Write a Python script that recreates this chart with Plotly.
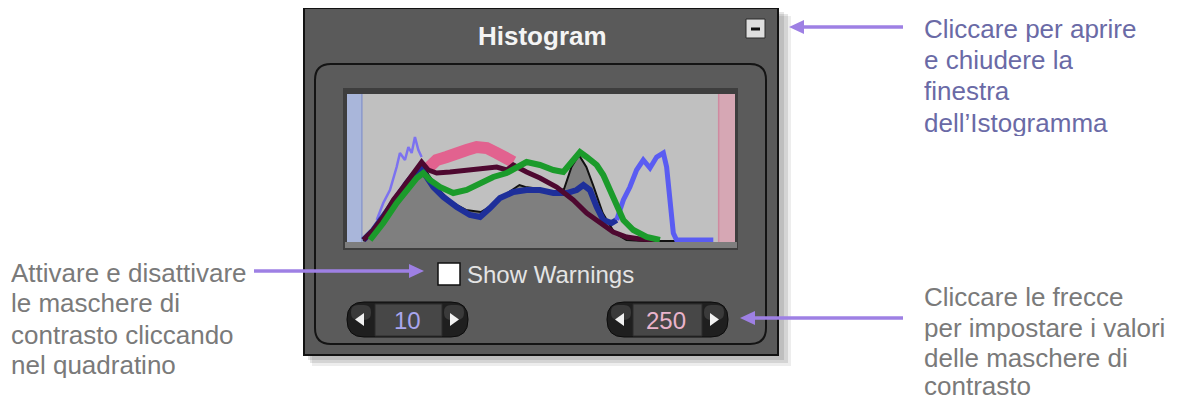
import plotly.graph_objects as go

# page body has an 8px margin; the figure fills the rest of the 1179x400 window
PAGE_W, PAGE_H = 1179, 400
OFF = 8
W, H = PAGE_W - OFF, PAGE_H - OFF

# ---------------- data ----------------
LOW_LIMIT = 10
HIGH_LIMIT = 250
LEVEL_MAX = 261

LUM_LEVEL = [11, 20, 30, 40, 50, 55, 62, 70, 80, 90, 98, 108, 116, 120, 130, 140, 146, 151, 156, 161, 166, 172, 180, 188, 200, 246]
LUM_COUNT = [4, 20, 42, 64, 82, 70, 55, 43, 35, 33, 40, 52, 60, 58, 56, 52, 56, 78, 90, 78, 58, 32, 12, 5, 4, 4]

SPIKE_LEVEL = [20, 24.4, 28.9, 33.4, 35.6, 39, 41.3, 43.5, 45.7, 48, 50.2]
SPIKE_COUNT = [25, 42, 55, 78, 92, 85, 98, 92, 108, 95, 88]

PINK_LEVEL = [54.7, 60.3, 67, 73.8, 80.5, 87.2, 94, 100.7, 107.4, 111.9]
PINK_COUNT = [77, 85, 88, 93, 95, 98, 97, 92, 87, 83]

BLUE_LEVEL = [11, 17.7, 28.9, 40.1, 49.1, 53.6, 58.1, 64.8, 73.8, 82.7, 89.5, 96.2, 102.9, 111.9, 120.8, 129.8, 138.8, 147.8, 154.5, 159, 163.4, 168, 172.4, 178, 181.4]
BLUE_COUNT = [5, 15, 38, 62, 78, 68, 58, 48, 38, 30, 28, 37, 47, 53, 55, 55, 52, 52, 55, 60, 55, 38, 25, 22, 25]

LBLUE_LEVEL = [181.4, 185.9, 190.3, 194.8, 199.3, 203.8, 208.3, 212.8, 215, 217.3, 219.5, 221.7, 246.4]
LBLUE_COUNT = [25, 45, 58, 75, 85, 77, 88, 92, 78, 45, 12, 5, 5]

RED_LEVEL = [11, 17.7, 24.4, 31.2, 37.9, 44.6, 50.2, 54.7, 60.3, 69.3, 80.5, 91.7, 100.7, 107.4, 111.9, 120.8, 129.8, 141, 152.2, 161.2, 170.2, 179.1, 188.1, 197.1, 208.3]
RED_COUNT = [5, 15, 28, 45, 58, 72, 83, 75, 72, 73, 75, 76, 78, 75, 80, 73, 67, 58, 45, 32, 22, 13, 8, 6, 5]

GREEN_LEVEL = [15.5, 24.4, 33.4, 40.1, 46.9, 51.3, 55.8, 62.5, 71.5, 80.5, 89.5, 98.4, 107.4, 114.1, 120.8, 129.8, 138.8, 145.5, 150, 156.7, 161.2, 168, 172.4, 176.9, 181.4, 185.9, 192.6, 201.6, 210.5]
GREEN_COUNT = [5, 22, 42, 55, 67, 72, 65, 58, 52, 55, 62, 68, 72, 77, 83, 80, 75, 73, 82, 93, 88, 80, 70, 55, 38, 25, 15, 8, 5]

TITLE = "Histogram"
CHECK_LABEL = "Show Warnings"

NOTE_TOP = ["Cliccare per aprire", "e chiudere la", "finestra", "dell\u2019Istogramma"]
NOTE_LEFT = ["Attivare e disattivare", "le maschere di", "contrasto cliccando", "nel quadratino"]
NOTE_BOTTOM = ["Cliccare le frecce", "per impostare i valori", "delle maschere di", "contrasto"]

FONT = "Liberation Sans, Arial, sans-serif"
ARROW_COLOR = "#9e80e4"


def px(x):
    return (x - OFF) / W


def py(y):
    return 1 - (y - OFF) / H


def rect(x0, y0, x1, y1, fill, line_color=None, lw=0, **kw):
    d = dict(type="rect", xref="paper", yref="paper",
             x0=px(x0), x1=px(x1), y0=py(y1), y1=py(y0),
             fillcolor=fill, layer="below",
             line=dict(color=line_color or fill, width=lw))
    d.update(kw)
    return d


def rrect(x0, y0, x1, y1, r, fill, line_color, lw):
    pts = [
        ("M", x0 + r, y0), ("L", x1 - r, y0), ("Q", x1, y0, x1, y0 + r),
        ("L", x1, y1 - r), ("Q", x1, y1, x1 - r, y1), ("L", x0 + r, y1),
        ("Q", x0, y1, x0, y1 - r), ("L", x0, y0 + r), ("Q", x0, y0, x0 + r, y0),
    ]
    s = ""
    for p in pts:
        cmd = p[0]
        coords = p[1:]
        parts = []
        for i in range(0, len(coords), 2):
            parts.append(f"{px(coords[i]):.5f},{py(coords[i+1]):.5f}")
        s += cmd + " " + " ".join(parts) + " "
    s += "Z"
    return dict(type="path", xref="paper", yref="paper", path=s,
                fillcolor=fill, layer="below", line=dict(color=line_color, width=lw))


def tri(tip_x, tip_y, base_x, half, color):
    s = (f"M {px(tip_x):.5f},{py(tip_y):.5f} L {px(base_x):.5f},{py(tip_y - half):.5f} "
         f"L {px(base_x):.5f},{py(tip_y + half):.5f} Z")
    return dict(type="path", xref="paper", yref="paper", path=s,
                fillcolor=color, layer="above", line=dict(color=color, width=0))


def hline(x0, x1, y, color, w, layer="above"):
    return dict(type="line", xref="paper", yref="paper",
                x0=px(x0), x1=px(x1), y0=py(y), y1=py(y),
                layer=layer, line=dict(color=color, width=w))


shapes = []
# drop shadow
shapes.append(rect(308, 12, 784, 360, "rgba(0,0,0,0.10)"))
shapes.append(rect(310, 14, 788, 363, "rgba(0,0,0,0.10)"))
shapes.append(rect(312, 16, 791, 366, "rgba(0,0,0,0.07)"))
# panel
shapes.append(rect(304, 8, 778, 355, "#5a5a5a", "#121212", 2))
# inner rounded frame
shapes.append(rrect(315, 64, 766, 344, 16, "#5b5b5b", "#141414", 2))
# histogram frame
shapes.append(rect(343, 88, 738, 250, "#3e3e3e"))
shapes.append(rect(347, 94, 735, 242, "#c0c0c0"))
shapes.append(rect(345, 242, 737, 248, "#7e7e7e"))
# clipping bands (data coordinates on x)
shapes.append(dict(type="rect", xref="x", yref="paper", x0=0, x1=LOW_LIMIT,
                   y0=py(242), y1=py(94), fillcolor="#a9b6da", layer="below",
                   line=dict(width=0)))
shapes.append(dict(type="line", xref="x", yref="paper", x0=LOW_LIMIT, x1=LOW_LIMIT,
                   y0=py(242), y1=py(94), layer="below",
                   line=dict(color="#8b98cc", width=1.5)))
shapes.append(dict(type="rect", xref="x", yref="paper", x0=HIGH_LIMIT, x1=LEVEL_MAX,
                   y0=py(242), y1=py(94), fillcolor="#d6a7b4", layer="below",
                   line=dict(width=0)))
shapes.append(dict(type="line", xref="x", yref="paper", x0=HIGH_LIMIT, x1=HIGH_LIMIT,
                   y0=py(242), y1=py(94), layer="below",
                   line=dict(color="#cf8aa0", width=1.5)))
# minus button
shapes.append(rect(746, 19, 765, 38, "#dedede", "#2a2a2a", 1))
shapes.append(hline(751, 760, 29, "#111111", 3, layer="below"))
# checkbox
shapes.append(rect(438, 263, 460, 285, "#ffffff", "#111111", 1.5))
# spinners
for (x0, x1, f0, f1) in [(347, 468, 375, 442), (607, 728, 633, 702)]:
    shapes.append(rrect(x0, 302, x1, 337, 17, "#1f1f1f", "#0c0c0c", 1))
    shapes.append(rrect(x0 + 4, 305, x0 + 24, 320, 7, "#3a3a3a", "#3a3a3a", 0))
    shapes.append(rrect(x1 - 24, 305, x1 - 4, 320, 7, "#3a3a3a", "#3a3a3a", 0))
    shapes.append(rect(f0, 304, f1, 336, "#474747", "#2c2c2c", 1))
shapes.append(tri(355, 319.5, 364, 6.5, "#f2f2f2"))
shapes.append(tri(459, 319.5, 450, 6.5, "#f2f2f2"))
shapes.append(tri(615, 319.5, 624, 6.5, "#f2f2f2"))
shapes.append(tri(719, 319.5, 710, 6.5, "#f2f2f2"))
# pointer arrows
shapes.append(hline(802, 903, 27, ARROW_COLOR, 3.5))
shapes.append(tri(789, 27, 804, 7, ARROW_COLOR))
shapes.append(hline(254, 411, 271, ARROW_COLOR, 3.5))
shapes.append(tri(424, 271, 409, 7, ARROW_COLOR))
shapes.append(hline(753, 903, 318, ARROW_COLOR, 3.5))
shapes.append(tri(740, 318, 755, 7, ARROW_COLOR))

fig = go.Figure()
fig.add_trace(go.Scatter(x=LUM_LEVEL, y=LUM_COUNT, mode="lines", fill="tozeroy",
                         fillcolor="#7f7f7f", line=dict(color="#111111", width=2)))
fig.add_trace(go.Scatter(x=SPIKE_LEVEL, y=SPIKE_COUNT, mode="lines",
                         line=dict(color="#7c72f0", width=2.5)))
fig.add_trace(go.Scatter(x=PINK_LEVEL, y=PINK_COUNT, mode="lines",
                         line=dict(color="#e2628f", width=12)))
fig.add_trace(go.Scatter(x=BLUE_LEVEL, y=BLUE_COUNT, mode="lines",
                         line=dict(color="#1e2f9a", width=6)))
fig.add_trace(go.Scatter(x=LBLUE_LEVEL, y=LBLUE_COUNT, mode="lines",
                         line=dict(color="#5a5cf2", width=5)))
fig.add_trace(go.Scatter(x=RED_LEVEL, y=RED_COUNT, mode="lines",
                         line=dict(color="#4e0830", width=5)))
fig.add_trace(go.Scatter(x=GREEN_LEVEL, y=GREEN_COUNT, mode="lines",
                         line=dict(color="#1b9b2b", width=6)))

ann = []
ann.append(dict(text=f"<b>{TITLE}</b>", x=px(542), y=py(36), xanchor="center", yanchor="middle",
                font=dict(family=FONT, size=26, color="#f4f4f4")))
ann.append(dict(text=CHECK_LABEL, x=px(466), y=py(274), xanchor="left", yanchor="middle",
                font=dict(family=FONT, size=24, color="#e4e4e4")))
ann.append(dict(text=str(LOW_LIMIT), x=px(407), y=py(320), xanchor="center", yanchor="middle",
                font=dict(family=FONT, size=24, color="#a9a6ee")))
ann.append(dict(text=str(HIGH_LIMIT), x=px(666), y=py(320), xanchor="center", yanchor="middle",
                font=dict(family=FONT, size=24, color="#eab4cc")))

for txt, yy in zip(NOTE_TOP, [29, 60, 91.5, 123]):
    ann.append(dict(text=txt, x=px(923), y=py(yy), xanchor="left", yanchor="middle",
                    height=26, valign="middle",
                    font=dict(family=FONT, size=26, color="#6a6aa6")))
for txt, yy in zip(NOTE_LEFT, [273, 303, 335, 365]):
    ann.append(dict(text=txt, x=px(10), y=py(yy), xanchor="left", yanchor="middle",
                    height=26, valign="middle",
                    font=dict(family=FONT, size=26, color="#7a7a7a")))
for txt, yy in zip(NOTE_BOTTOM, [297, 328, 358, 386]):
    ann.append(dict(text=txt, x=px(923), y=py(yy), xanchor="left", yanchor="middle",
                    height=26, valign="middle",
                    font=dict(family=FONT, size=26, color="#7a7a7a")))

for a in ann:
    a.update(xref="paper", yref="paper", showarrow=False, borderpad=0)

fig.update_layout(
    width=W, height=H,
    margin=dict(l=0, r=0, t=0, b=0),
    paper_bgcolor="#ffffff",
    plot_bgcolor="rgba(0,0,0,0)",
    showlegend=False,
    shapes=shapes,
    annotations=ann,
    xaxis=dict(domain=[px(347), px(735)], range=[0, LEVEL_MAX], visible=False, fixedrange=True),
    yaxis=dict(domain=[py(242), py(94)], range=[3, 151], visible=False, fixedrange=True),
)

fig.write_html("out.html")
